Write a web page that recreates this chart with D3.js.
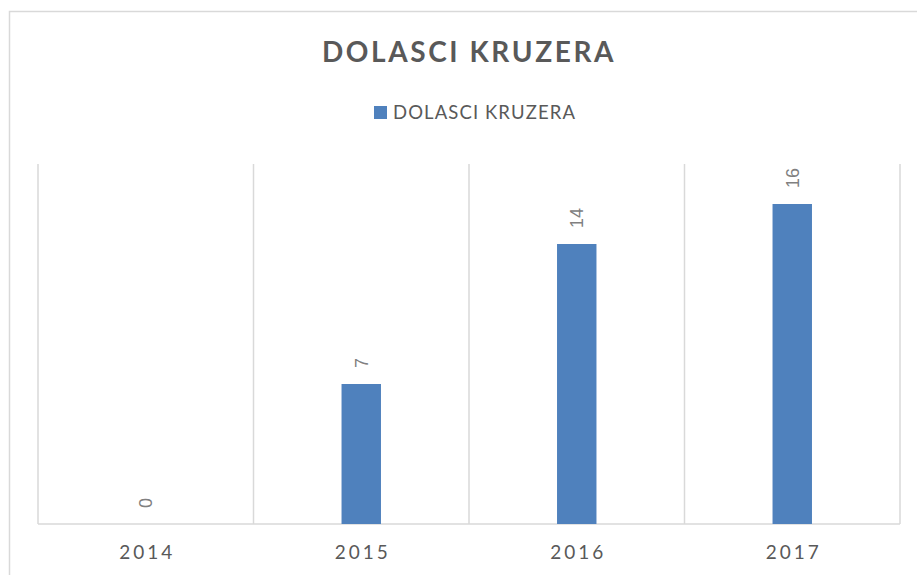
<!DOCTYPE html>
<html>
<head>
<meta charset="utf-8">
<script src="https://cdn.jsdelivr.net/npm/d3@7"></script>
<style>
  body { margin: 0; background: #fff; }
  svg { display: block; }
</style>
</head>
<body>
<div class="chart"></div>
<script>
// data
var years = ["2014", "2015", "2016", "2017"];
var arrivals = [0, 7, 14, 16];
var seriesName = "DOLASCI KRUZERA";
var chartTitle = "DOLASCI KRUZERA";

var W = 917, H = 575;
var plot = {left: 38, right: 900, top: 164, bottom: 524};

var svg = d3.select(".chart").append("svg")
    .attr("width", W)
    .attr("height", H);

// chart frame (runs off the right and bottom edges)
svg.append("rect")
    .attr("x", 9.5).attr("y", 11.5)
    .attr("width", 1000).attr("height", 1000)
    .attr("fill", "none")
    .attr("stroke", "#d9d9d9")
    .attr("stroke-width", 1.5);

// title
svg.append("text")
    .attr("x", 469)
    .attr("y", 62)
    .attr("text-anchor", "middle")
    .style("font-family", "Lato, 'Open Sans', sans-serif")
    .style("font-weight", "bold")
    .style("font-size", "28px")
    .style("letter-spacing", "2.6px")
    .attr("fill", "#595959")
    .text(chartTitle);

// legend
var legend = svg.append("g").attr("transform", "translate(374,106)");
legend.append("rect")
    .attr("width", 13).attr("height", 13)
    .attr("fill", "#4f81bd");
legend.append("text")
    .attr("x", 19)
    .attr("y", 13)
    .style("font-family", "Lato, 'Open Sans', sans-serif")
    .style("font-size", "18.5px")
    .style("letter-spacing", "1.1px")
    .attr("fill", "#595959")
    .text(seriesName);

var x = d3.scaleBand()
    .domain(years)
    .range([plot.left, plot.right])
    .padding(0);

var y = d3.scaleLinear()
    .domain([0, 18])
    .range([plot.bottom, plot.top]);

// vertical category gridlines
var gridX = years.map(function(d) { return x(d); }).concat([plot.right]);
svg.append("g")
    .selectAll("line")
    .data(gridX)
    .enter().append("line")
    .attr("x1", function(d) { return d; })
    .attr("x2", function(d) { return d; })
    .attr("y1", y(18))
    .attr("y2", y(0))
    .attr("stroke", "#d9d9d9")
    .attr("stroke-width", 1.5);

// baseline
svg.append("line")
    .attr("x1", plot.left).attr("x2", plot.right)
    .attr("y1", y(0)).attr("y2", y(0))
    .attr("stroke", "#d9d9d9")
    .attr("stroke-width", 1.5);

var data = years.map(function(d, i) { return {year: d, value: arrivals[i]}; });
var barW = x.bandwidth() * 0.183;

// bars
svg.append("g")
    .selectAll("rect")
    .data(data)
    .enter().append("rect")
    .attr("x", function(d) { return x(d.year) + x.bandwidth() / 2 - barW / 2; })
    .attr("y", function(d) { return y(d.value); })
    .attr("width", barW)
    .attr("height", function(d) { return y(0) - y(d.value); })
    .attr("fill", "#4f81bd");

// rotated value labels
svg.append("g")
    .selectAll("text")
    .data(data)
    .enter().append("text")
    .attr("transform", function(d) {
      return "translate(" + (x(d.year) + x.bandwidth() / 2) + "," + (y(d.value) - 16) + ") rotate(-90)";
    })
    .attr("dy", "0.35em")
    .attr("text-anchor", "start")
    .style("font-family", "'Liberation Sans', Arial, sans-serif")
    .style("font-size", "18px")
    .attr("fill", "#808080")
    .text(function(d) { return d.value; });

// category axis labels
svg.append("g")
    .selectAll("text")
    .data(years)
    .enter().append("text")
    .attr("x", function(d) { return x(d) + x.bandwidth() / 2 + 1.5; })
    .attr("y", 559)
    .attr("text-anchor", "middle")
    .style("font-family", "Lato, 'Open Sans', sans-serif")
    .style("font-size", "19px")
    .style("letter-spacing", "3px")
    .attr("fill", "#595959")
    .text(function(d) { return d; });
</script>
</body>
</html>
